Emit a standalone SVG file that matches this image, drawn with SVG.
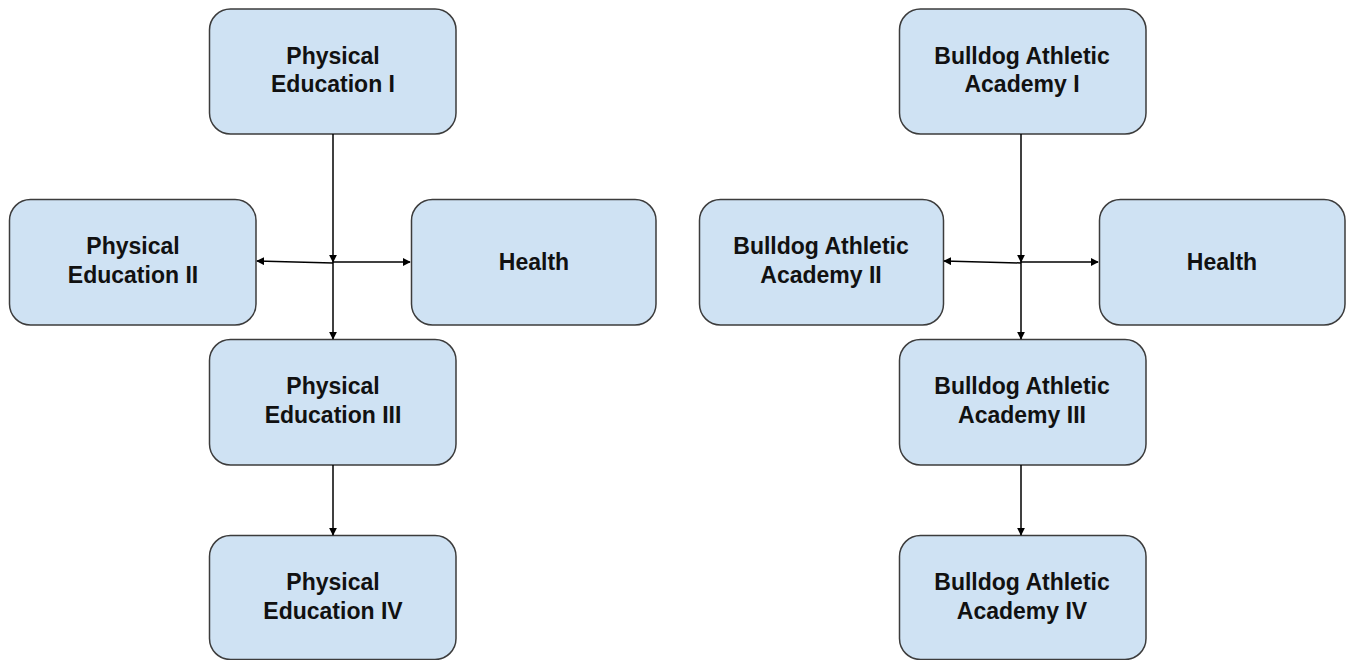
<svg xmlns="http://www.w3.org/2000/svg" width="1346" height="660" viewBox="0 0 1346 660">
  <style>
    .box { fill: #cfe2f3; stroke: #3c3c3c; stroke-width: 1.5; }
    .label { font-family: "Liberation Sans", Arial, sans-serif; font-weight: bold; font-size: 23px; fill: #111; text-anchor: middle; }
    .link { stroke: #000; stroke-width: 1.5; fill: none; }
  </style>
  <defs>
    <marker id="arrow" viewBox="0 0 10 10" refX="9" refY="5" markerWidth="8" markerHeight="8" markerUnits="userSpaceOnUse" orient="auto">
      <path d="M0,0 L10,5 L0,10 Z" fill="#000"/>
    </marker>
  </defs>
  <rect width="1346" height="660" fill="#fff"/>

  <!-- Physical Education track -->
  <g id="pe1">
    <rect class="box" x="209.5" y="9" width="246.5" height="125" rx="21"/>
    <text class="label" x="333" y="63.5">Physical</text>
    <text class="label" x="333" y="92">Education I</text>
  </g>
  <g id="pe2">
    <rect class="box" x="9.5" y="199.5" width="246.5" height="125.5" rx="21"/>
    <text class="label" x="133" y="254">Physical</text>
    <text class="label" x="133" y="282.5">Education II</text>
  </g>
  <g id="health-left">
    <rect class="box" x="411.5" y="199.5" width="244.5" height="125.5" rx="21"/>
    <text class="label" x="534" y="270">Health</text>
  </g>
  <g id="pe3">
    <rect class="box" x="209.5" y="339.5" width="246.5" height="125.5" rx="21"/>
    <text class="label" x="333" y="394">Physical</text>
    <text class="label" x="333" y="422.5">Education III</text>
  </g>
  <g id="pe4">
    <rect class="box" x="209.5" y="535.5" width="246.5" height="124" rx="21"/>
    <text class="label" x="333" y="590">Physical</text>
    <text class="label" x="333" y="618.5">Education IV</text>
  </g>

  <!-- Bulldog Athletic Academy track -->
  <g id="baa1">
    <rect class="box" x="899.5" y="9" width="246.5" height="125" rx="21"/>
    <text class="label" x="1022" y="63.5">Bulldog Athletic</text>
    <text class="label" x="1022" y="92">Academy I</text>
  </g>
  <g id="baa2">
    <rect class="box" x="699.5" y="199.5" width="244" height="125.5" rx="21"/>
    <text class="label" x="821" y="254">Bulldog Athletic</text>
    <text class="label" x="821" y="282.5">Academy II</text>
  </g>
  <g id="health-right">
    <rect class="box" x="1099.5" y="199.5" width="245.5" height="125.5" rx="21"/>
    <text class="label" x="1222" y="270">Health</text>
  </g>
  <g id="baa3">
    <rect class="box" x="899.5" y="339.5" width="246.5" height="125.5" rx="21"/>
    <text class="label" x="1022" y="394">Bulldog Athletic</text>
    <text class="label" x="1022" y="422.5">Academy III</text>
  </g>
  <g id="baa4">
    <rect class="box" x="899.5" y="535.5" width="246.5" height="124" rx="21"/>
    <text class="label" x="1022" y="590">Bulldog Athletic</text>
    <text class="label" x="1022" y="618.5">Academy IV</text>
  </g>

  <!-- Connectors -->
  <g id="connectors">
    <line class="link" x1="333" y1="134" x2="333" y2="262" marker-end="url(#arrow)"/>
    <line class="link" x1="333" y1="262" x2="333" y2="339" marker-end="url(#arrow)"/>
    <line class="link" x1="333" y1="263" x2="257" y2="261" marker-end="url(#arrow)"/>
    <line class="link" x1="333" y1="262" x2="410" y2="262" marker-end="url(#arrow)"/>
    <line class="link" x1="333" y1="465" x2="333" y2="535" marker-end="url(#arrow)"/>

    <line class="link" x1="1021" y1="134" x2="1021" y2="262" marker-end="url(#arrow)"/>
    <line class="link" x1="1021" y1="262" x2="1021" y2="339" marker-end="url(#arrow)"/>
    <line class="link" x1="1021" y1="263" x2="944" y2="261" marker-end="url(#arrow)"/>
    <line class="link" x1="1021" y1="262" x2="1098" y2="262" marker-end="url(#arrow)"/>
    <line class="link" x1="1021" y1="465" x2="1021" y2="535" marker-end="url(#arrow)"/>
  </g>
</svg>
